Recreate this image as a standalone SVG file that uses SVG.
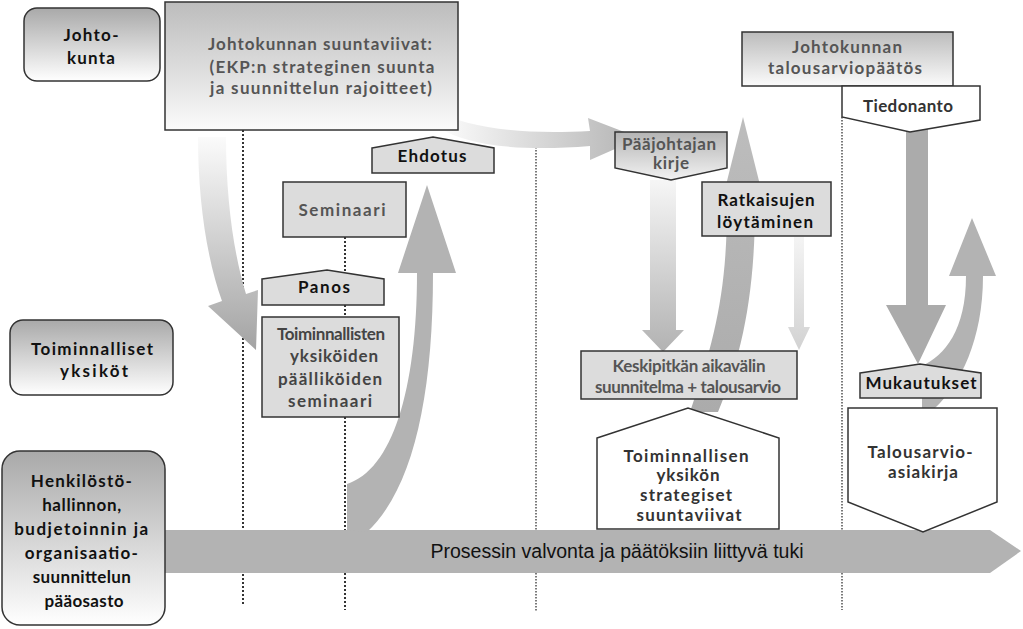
<svg xmlns="http://www.w3.org/2000/svg" width="1023" height="629" viewBox="0 0 1023 629">
<defs>
<linearGradient id="gLabel" x1="0" y1="0" x2="0" y2="1"><stop offset="0" stop-color="#a9a9a9"/><stop offset="1" stop-color="#ffffff"/></linearGradient>
<linearGradient id="gTop" x1="0" y1="0" x2="0" y2="1"><stop offset="0" stop-color="#bcbcbc"/><stop offset="1" stop-color="#fbfbfb"/></linearGradient>
<linearGradient id="gPj" x1="0" y1="0" x2="0" y2="1"><stop offset="0" stop-color="#b4b4b4"/><stop offset="1" stop-color="#f2f2f2"/></linearGradient>
<linearGradient id="gDownL" x1="0" y1="0" x2="0" y2="1"><stop offset="0" stop-color="#fbfbfb"/><stop offset="1" stop-color="#a3a3a3"/></linearGradient>
<linearGradient id="gRight" x1="0" y1="0" x2="1" y2="0"><stop offset="0" stop-color="#ffffff"/><stop offset="1" stop-color="#b3b3b3"/></linearGradient>
<linearGradient id="gDownM" x1="0" y1="0" x2="0" y2="1"><stop offset="0" stop-color="#f6f6f6"/><stop offset="1" stop-color="#b2b2b2"/></linearGradient>
<linearGradient id="gDownS" x1="0" y1="0" x2="0" y2="1"><stop offset="0" stop-color="#f4f4f4"/><stop offset="1" stop-color="#d2d2d2"/></linearGradient>
<linearGradient id="gUp" x1="0" y1="0" x2="0" y2="1"><stop offset="0" stop-color="#bdbdbd"/><stop offset="1" stop-color="#ababab"/></linearGradient>
</defs>
<style>
.b{stroke:#333;stroke-width:1.5}
.lt{fill:#dcdcdc}
.wh{fill:#fff}
.t{font-family:Lato,"DejaVu Sans",sans-serif;font-weight:bold;text-anchor:middle;font-size:17px}
.k{fill:#111}
.g{fill:#555}
.d{fill:#333}
.dot{stroke:#333;fill:none}
.arr{fill:#b3b3b3}
</style>

<g id="guides">
<line class="dot" x1="243" y1="130" x2="243" y2="606" stroke-width="2" stroke-dasharray="2 2"/>
<line class="dot" x1="345" y1="237" x2="345" y2="610" stroke-width="2" stroke-dasharray="2 2"/>
<line class="dot" x1="536" y1="147" x2="536" y2="612" stroke-width="1.3" stroke-dasharray="1.5 1.5"/>
<line class="dot" x1="842" y1="117" x2="842" y2="610" stroke-width="1.3" stroke-dasharray="1.5 1.5"/>
</g>

<g id="connectors">
<polygon class="arr" points="165,530 990,530 1021,551 990,573 165,573"/>
<path fill="url(#gDownL)" d="M198,137 L226,137 C226,200 234,255 246,294 L258,290 L256,350 L208,306 L222,301 C207,260 198,200 198,137 Z"/>
<path fill="url(#gRight)" d="M432,110 C470,128 520,135 590,131 L588,118 L640,138 L590,160 L590,146 C520,152 465,145 440,128 Z"/>
<path class="arr" d="M347,530 L347,484 C392,470 417,390 417,273 L398,273 L427,185 L456,273 L433,273 C433,400 412,490 367,532 Z"/>
<path fill="url(#gDownM)" d="M650,180 L676,180 L676,330 L684,330 L663,352 L642,330 L650,330 Z"/>
<path fill="url(#gUp)" d="M743,117 L765,205 L755,205 C755,300 740,360 718,412 L690,412 C715,340 727,290 727,205 L721,205 Z"/>
<path fill="url(#gDownS)" d="M794,237 L804,237 L804,327 L810,327 L799,350 L788,327 L794,327 Z"/>
<path fill="#ababab" d="M906,125 L928,125 L928,305 L946,305 L918,364 L886,305 L906,305 Z"/>
<path class="arr" d="M949,276 L972,218 L996,276 L983,276 C983,340 960,385 935,408 L922,408 L922,366 C945,355 966,330 966,276 Z"/>
</g>

<g id="lbl-johtokunta">
<rect class="b" x="24" y="8" width="136" height="73" rx="13" fill="url(#gLabel)"/>
<text class="t k" font-size="18"><tspan x="91" y="41" textLength="55">Johto-</tspan><tspan x="91" y="64" textLength="48">kunta</tspan></text>
</g>
<g id="lbl-toiminnalliset">
<rect class="b" x="10" y="320" width="163" height="75" rx="13" fill="url(#gLabel)"/>
<text class="t k"><tspan x="92" y="355" textLength="122">Toiminnalliset</tspan><tspan x="94" y="377" textLength="68">yksiköt</tspan></text>
</g>
<g id="lbl-henkilosto">
<rect class="b" x="2" y="451" width="163" height="174" rx="18" fill="url(#gLabel)"/>
<text class="t k" font-size="18">
<tspan x="84" y="487" textLength="101">Henkilöstö-</tspan>
<tspan x="84" y="511" textLength="79">hallinnon,</tspan>
<tspan x="84" y="535" textLength="134">budjetoinnin ja</tspan>
<tspan x="84" y="559" textLength="113">organisaatio-</tspan>
<tspan x="84" y="583" textLength="98">suunnittelun</tspan>
<tspan x="84" y="607" textLength="79">pääosasto</tspan>
</text>
</g>

<g id="n-suuntaviivat">
<rect class="b" x="165" y="2" width="293" height="128" fill="url(#gTop)"/>
<text class="t g" font-size="19"><tspan x="320" y="50" textLength="224">Johtokunnan suuntaviivat:</tspan><tspan x="322" y="73" textLength="225">(EKP:n strateginen suunta</tspan><tspan x="321" y="94" textLength="222">ja suunnittelun rajoitteet)</tspan></text>
</g>
<g id="n-ehdotus">
<polygon class="b lt" points="372,148 433,137 494,148 494,173 372,173"/>
<text class="t k" x="432" y="162" textLength="69">Ehdotus</text>
</g>
<g id="n-seminaari">
<rect class="b lt" x="283" y="182" width="123" height="55"/>
<text class="t g" font-size="18" x="342" y="216" textLength="87">Seminaari</text>
</g>
<g id="n-panos">
<polygon class="b lt" points="262,279 327,270 384,279 384,305 262,305"/>
<text class="t k" x="324" y="293" textLength="52">Panos</text>
</g>
<g id="n-paallikot">
<rect class="b lt" x="262" y="317" width="137" height="100"/>
<text class="t" fill="#444"><tspan x="331" y="340" textLength="108">Toiminnallisten</tspan><tspan x="334" y="362" textLength="88">yksiköiden</tspan><tspan x="330" y="385" textLength="104">päälliköiden</tspan><tspan x="330" y="407" textLength="84">seminaari</tspan></text>
</g>
<g id="n-paajohtaja">
<polygon class="b" fill="url(#gPj)" points="615,132 727,132 727,168 671,180 615,168"/>
<text class="t g" font-size="16"><tspan x="669" y="150" textLength="94">Pääjohtajan</tspan><tspan x="671" y="169" textLength="36">kirje</tspan></text>
</g>
<g id="n-ratkaisut">
<rect class="b lt" x="702" y="182" width="129" height="54"/>
<text class="t k" font-size="17"><tspan x="766" y="206" textLength="97">Ratkaisujen</tspan><tspan x="765" y="228" textLength="96">löytäminen</tspan></text>
</g>
<g id="n-talousarviopaatos">
<rect class="b" x="742" y="32" width="211" height="54" fill="url(#gTop)"/>
<text class="t g" font-size="18"><tspan x="847" y="53" textLength="110">Johtokunnan</tspan><tspan x="845" y="74" textLength="154">talousarviopäätös</tspan></text>
</g>
<g id="n-tiedonanto">
<polygon class="b wh" points="842,86 980,86 980,120 910,132 842,117"/>
<text class="t d" x="908" y="112" textLength="90">Tiedonanto</text>
</g>
<g id="n-keskipitka">
<rect class="b lt" x="581" y="351" width="216" height="48"/>
<text class="t g"><tspan x="689" y="372" textLength="153">Keskipitkän aikavälin</tspan><tspan x="688" y="393" textLength="186">suunnitelma + talousarvio</tspan></text>
</g>
<g id="n-strategiset">
<polygon class="b wh" points="597,438 688,408 779,438 779,529 597,529"/>
<text class="t d" font-size="18"><tspan x="686" y="462" textLength="125">Toiminnallisen</tspan><tspan x="688" y="481" textLength="63">yksikön</tspan><tspan x="686" y="501" textLength="92">strategiset</tspan><tspan x="689" y="521" textLength="105">suuntaviivat</tspan></text>
</g>
<g id="n-mukautukset">
<polygon class="b lt" points="860,373 920,364 981,373 981,398 860,398"/>
<text class="t k" font-size="18" x="921" y="389" textLength="111">Mukautukset</text>
</g>
<g id="n-asiakirja">
<polygon class="b wh" points="848,408 997,408 997,502 923,532 848,502"/>
<text class="t d" font-size="18"><tspan x="920" y="458" textLength="105">Talousarvio-</tspan><tspan x="923" y="478" textLength="70">asiakirja</tspan></text>
</g>
<g id="bar-label">
<text x="617" y="558" font-family="'Liberation Sans',Arial,sans-serif" font-size="20" text-anchor="middle" fill="#111" textLength="373" lengthAdjust="spacingAndGlyphs">Prosessin valvonta ja päätöksiin liittyvä tuki</text>
</g>
</svg>
